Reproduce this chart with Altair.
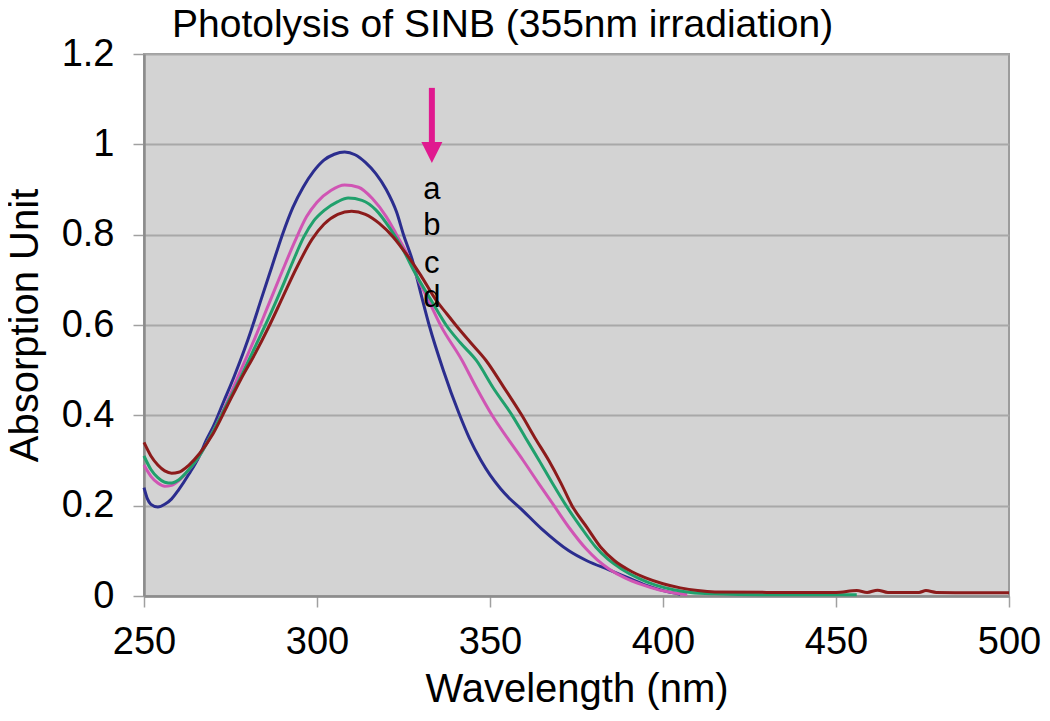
import altair as alt
import pandas as pd

# ---- data ----
wl_a = [250, 251, 252, 254, 256, 258, 260, 263, 266, 268, 270, 273, 276, 279, 281, 284, 287, 290, 293, 296,
        299, 302, 305, 308, 311, 314, 317, 320, 323, 325, 327.5, 330, 332.4, 336.5, 341, 344, 347.4, 350, 353,
        355.5, 358.4, 365, 372.8, 378, 384.4, 390, 395, 400, 405]
abs_a = [0.24, 0.215, 0.203, 0.197, 0.203, 0.215, 0.235, 0.27, 0.31, 0.345, 0.375, 0.43, 0.485, 0.545, 0.589,
         0.66, 0.73, 0.80, 0.86, 0.905, 0.94, 0.965, 0.978, 0.983, 0.977, 0.96, 0.935, 0.90, 0.85, 0.80, 0.745,
         0.67, 0.60, 0.50, 0.405, 0.35, 0.30, 0.268, 0.238, 0.217, 0.197, 0.148, 0.10, 0.078, 0.058, 0.04,
         0.024, 0.012, 0.004]

wl_b = [250, 252, 254, 256, 258, 260, 263, 266, 270, 274, 278, 282, 286, 290, 293.6, 297, 300, 304, 308, 312,
        316, 320, 323, 326, 329, 332.4, 335.8, 341.9, 346, 350.6, 355, 359.6, 364, 368.5, 373, 377.7, 381,
        384.4, 389, 393.9, 399, 403, 407]
abs_b = [0.29, 0.265, 0.25, 0.243, 0.245, 0.255, 0.28, 0.31, 0.365, 0.43, 0.50, 0.57, 0.645, 0.72, 0.785, 0.84,
         0.872, 0.898, 0.91, 0.905, 0.88, 0.84, 0.80, 0.758, 0.705, 0.652, 0.598, 0.522, 0.462, 0.40, 0.35, 0.30,
         0.25, 0.20, 0.15, 0.105, 0.08, 0.06, 0.04, 0.025, 0.013, 0.007, 0.003]

wl_c = [250, 252, 254, 256, 258, 260, 263, 266, 270, 274, 278, 282, 286, 290, 293, 296.2, 299, 302, 306, 309,
        313, 317, 321, 325, 328, 333.2, 337.3, 341.5, 346, 351, 356.4, 360.3, 364.2, 368, 372, 376.3, 380.6,
        384, 388, 393, 397.9, 403, 408, 415, 430, 456]
abs_c = [0.31, 0.28, 0.262, 0.252, 0.25, 0.257, 0.28, 0.31, 0.365, 0.425, 0.485, 0.55, 0.615, 0.685, 0.74,
         0.795, 0.83, 0.853, 0.873, 0.881, 0.876, 0.855, 0.815, 0.765, 0.72, 0.652, 0.60, 0.56, 0.522, 0.46,
         0.40, 0.35, 0.30, 0.25, 0.20, 0.152, 0.108, 0.082, 0.06, 0.039, 0.024, 0.014, 0.008, 0.005, 0.003, 0.003]

wl_d = [250, 252, 254, 256, 258, 260, 263, 266, 270, 274, 278, 282, 286, 290, 294, 298.6, 302, 306, 310, 314,
        318, 322, 326, 330, 334.4, 337.5, 340.5, 344.5, 348.8, 354, 359.2, 363, 367, 370.5, 373.7, 378, 382,
        386, 390, 395, 400, 405, 410, 415, 430, 450, 456, 459, 462, 465, 474, 476, 479, 490, 500]
abs_d = [0.34, 0.31, 0.29, 0.277, 0.272, 0.274, 0.29, 0.315, 0.36, 0.42, 0.48, 0.535, 0.595, 0.66, 0.725, 0.79,
         0.823, 0.845, 0.852, 0.845, 0.825, 0.795, 0.755, 0.71, 0.655, 0.625, 0.596, 0.56, 0.522, 0.462, 0.40,
         0.35, 0.30, 0.25, 0.20, 0.152, 0.108, 0.078, 0.058, 0.04, 0.027, 0.018, 0.012, 0.009, 0.008, 0.008,
         0.012, 0.008, 0.013, 0.008, 0.008, 0.012, 0.008, 0.007, 0.007]

series_names = ["a", "b", "c", "d"]
series_colors = ["#2B2D8E", "#D055B4", "#20A06C", "#8C1B1B"]

x_ticks = [250, 300, 350, 400, 450, 500]
y_ticks = [0, 0.2, 0.4, 0.6, 0.8, 1.0, 1.2]

label_text = ["a", "b", "c", "d"]
label_y = [0.879, 0.799, 0.716, 0.640]
label_x = 333.2
arrow_x = 333.2
arrow_top = 1.125
arrow_shaft_end = 0.99
arrow_head_y = 0.982
arrow_color = "#E0198F"

FONT = "Liberation Sans"

rows = []
for name, wls, vals in zip(series_names, [wl_a, wl_b, wl_c, wl_d], [abs_a, abs_b, abs_c, abs_d]):
    for w, v in zip(wls, vals):
        rows.append({"series": name, "wl": w, "abs": v})
df = pd.DataFrame(rows)

xscale = alt.Scale(domain=[250, 500], nice=False, zero=False)
yscale = alt.Scale(domain=[0, 1.2], nice=False, zero=False)

lines = alt.Chart(df).mark_line(strokeWidth=3, interpolate="monotone").encode(
    x=alt.X("wl:Q", scale=xscale,
            axis=alt.Axis(values=x_ticks, title="Wavelength (nm)", grid=False, format="d",
                          tickSize=11, labelPadding=16, titlePadding=8, labelFlush=False,
                          labelFontSize=38, titleFontSize=40, tickColor="#A0A0A0", tickWidth=1.5,
                          domainColor="#8C8C8C", domainWidth=2.5)),
    y=alt.Y("abs:Q", scale=yscale,
            axis=alt.Axis(values=y_ticks, title="Absorption Unit", grid=True, format="~g",
                          tickSize=11, labelPadding=19, titlePadding=16, labelFlush=False,
                          labelFontSize=38, titleFontSize=40, tickColor="#A0A0A0", tickWidth=1.5,
                          gridColor="#A8A8A8", gridWidth=2, domainColor="#8C8C8C", domainWidth=2.5)),
    color=alt.Color("series:N", scale=alt.Scale(domain=series_names, range=series_colors), legend=None),
)

arrow_df = pd.DataFrame({"x": [arrow_x], "y": [arrow_top], "y2": [arrow_shaft_end], "hy": [arrow_head_y]})
shaft = alt.Chart(arrow_df).mark_rule(strokeWidth=6, color=arrow_color).encode(
    x=alt.X("x:Q", scale=xscale), y=alt.Y("y:Q", scale=yscale), y2="y2:Q")
head = alt.Chart(arrow_df).mark_point(shape="M-1,-1L1,-1L0,1Z", size=441, filled=True,
                                       color=arrow_color, opacity=1).encode(
    x=alt.X("x:Q", scale=xscale), y=alt.Y("hy:Q", scale=yscale))

lab_df = pd.DataFrame({"t": label_text, "y": label_y, "x": [label_x] * len(label_text)})
labels = alt.Chart(lab_df).mark_text(fontSize=31, font=FONT, baseline="alphabetic", align="center",
                                     color="black").encode(
    x=alt.X("x:Q", scale=xscale), y=alt.Y("y:Q", scale=yscale), text="t:N")

chart = alt.layer(lines, shaft, head, labels).properties(
    width=865, height=542,
    autosize=alt.AutoSizeParams(type="none"),
    padding={"left": 136, "top": 46, "right": 32, "bottom": 115},
    title=alt.TitleParams("Photolysis of SINB (355nm irradiation)", anchor="start", frame="group",
                          dx=28, dy=16, fontSize=39, font=FONT, fontWeight="normal", color="black",
                          offset=6),
).configure_view(fill="#D3D3D3", stroke="#9C9C9C", strokeWidth=2).configure_axis(
    labelFont=FONT, titleFont=FONT, labelColor="black", titleColor="black", titleFontWeight="normal"
)

chart.save("out.html", embed_options={"renderer": "svg", "actions": False})
